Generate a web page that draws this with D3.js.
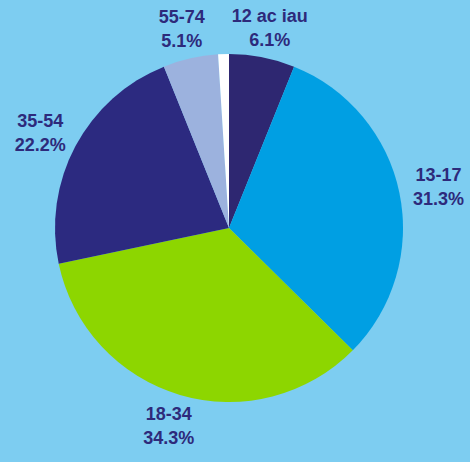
<!DOCTYPE html>
<html>
<head>
<meta charset="utf-8">
<script src="https://cdn.jsdelivr.net/npm/d3@7"></script>
<style>
  html, body { margin: 0; padding: 0; background: #7dcdf1; }
  .lbl { font-family: "Liberation Sans", Arial, sans-serif; font-weight: bold; font-size: 18px; fill: #2d2a7b; }
</style>
</head>
<body>
<div id="chart"></div>
<script>
// age groups and their shares
const groups = ["12 ac iau", "13-17", "18-34", "35-54", "55-74", "75+"];
const shares = [6.1, 31.3, 34.3, 22.2, 5.1, 1.0];
const showLabel = [true, true, true, true, true, false];
const colors = ["#2e2771", "#009fe3", "#8dd600", "#2c2a80", "#9cb2de", "#ffffff"];

const width = 470, height = 462;
const cx = 229, cy = 228, radius = 174;
// labels sit on a slightly flattened ring around the pie
const labelRx = 214, labelRy = 205;

const svg = d3.select("#chart")
  .append("svg")
    .attr("width", width)
    .attr("height", height)
  .append("g")
    .attr("transform", `translate(${cx},${cy})`);

const data = groups.map((g, i) => ({group: g, value: shares[i], color: colors[i], show: showLabel[i]}));

const pie = d3.pie()
  .sort(null)
  .value(d => d.value);

const arc = d3.arc().innerRadius(0).outerRadius(radius);

const arcs = pie(data);

// slices
svg.selectAll("path")
  .data(arcs)
  .join("path")
    .attr("d", arc)
    .attr("fill", d => d.data.color);

// labels
const labels = svg.selectAll("text.lbl")
  .data(arcs.filter(d => d.data.show))
  .join("text")
    .attr("class", "lbl")
    .attr("text-anchor", "middle")
    .attr("transform", d => {
      const a = (d.startAngle + d.endAngle) / 2;
      return `translate(${labelRx * Math.sin(a)},${-labelRy * Math.cos(a)})`;
    });

labels.append("tspan")
  .attr("x", 0)
  .attr("y", -5)
  .text(d => d.data.group);

labels.append("tspan")
  .attr("x", 0)
  .attr("y", 19)
  .text(d => d.data.value.toFixed(1) + "%");
</script>
</body>
</html>
